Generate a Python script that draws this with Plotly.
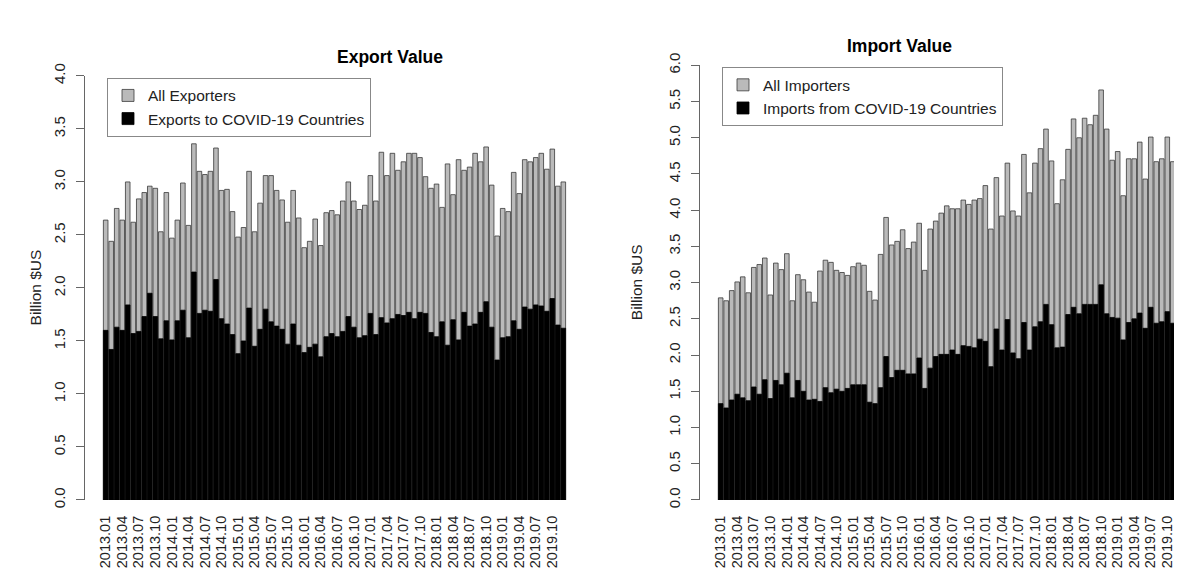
import plotly.graph_objects as go

W, H = 1182, 579

# month labels 2013.01 .. 2019.12
months = [f"{y}.{m:02d}" for y in range(2013, 2020) for m in range(1, 13)]

export_all = [
    2.64, 2.44, 2.75, 2.64, 3.00, 2.62, 2.84, 2.90, 2.96, 2.94, 2.53, 2.90,
    2.47, 2.64, 2.99, 2.59, 3.36, 3.10, 3.07, 3.10, 3.32, 2.92, 2.93, 2.72,
    2.48, 2.57, 3.10, 2.53, 2.80, 3.06, 3.06, 2.92, 2.83, 2.62, 2.92, 2.66,
    2.38, 2.44, 2.65, 2.40, 2.71, 2.73, 2.69, 2.82, 3.00, 2.82, 2.74, 2.78,
    3.06, 2.82, 3.28, 3.06, 3.27, 3.11, 3.19, 3.27, 3.27, 3.23, 3.05, 2.94,
    2.98, 2.76, 3.17, 2.88, 3.21, 3.11, 3.14, 3.27, 3.19, 3.33, 2.97, 2.49,
    2.75, 2.72, 3.09, 2.89, 3.21, 3.19, 3.23, 3.27, 3.12, 3.31, 2.96, 3.00,
]
export_covid = [
    1.60, 1.42, 1.63, 1.60, 1.84, 1.57, 1.59, 1.73, 1.95, 1.73, 1.52, 1.69,
    1.51, 1.69, 1.79, 1.53, 2.15, 1.76, 1.79, 1.78, 2.08, 1.71, 1.66, 1.56,
    1.38, 1.50, 1.81, 1.45, 1.61, 1.80, 1.68, 1.64, 1.61, 1.47, 1.66, 1.46,
    1.39, 1.44, 1.47, 1.35, 1.54, 1.57, 1.54, 1.59, 1.73, 1.63, 1.53, 1.55,
    1.76, 1.56, 1.72, 1.67, 1.71, 1.75, 1.74, 1.77, 1.71, 1.77, 1.76, 1.58,
    1.54, 1.68, 1.46, 1.70, 1.51, 1.77, 1.64, 1.66, 1.77, 1.87, 1.63, 1.32,
    1.53, 1.54, 1.69, 1.61, 1.82, 1.80, 1.84, 1.83, 1.78, 1.90, 1.65, 1.62,
]
import_all = [
    2.79, 2.75, 2.89, 3.01, 3.08, 2.86, 3.21, 3.25, 3.34, 2.83, 3.27, 3.18,
    3.40, 2.75, 3.11, 3.04, 2.87, 2.73, 3.16, 3.31, 3.28, 3.17, 3.14, 3.10,
    3.22, 3.27, 3.24, 2.88, 2.76, 3.39, 3.90, 3.52, 3.57, 3.73, 3.47, 3.56,
    3.82, 3.17, 3.74, 3.85, 3.96, 4.06, 4.02, 4.02, 4.14, 4.08, 4.14, 4.16,
    4.34, 3.74, 4.45, 3.92, 4.65, 3.99, 3.92, 4.77, 4.24, 4.65, 4.85, 5.12,
    4.68, 4.09, 4.42, 4.84, 5.26, 5.00, 5.27, 5.18, 5.31, 5.66, 5.12, 4.69,
    4.81, 4.20, 4.71, 4.71, 4.94, 4.43, 5.01, 4.67, 4.71, 5.01, 4.67, 4.30,
]
import_covid = [
    1.33, 1.27, 1.38, 1.46, 1.41, 1.37, 1.56, 1.46, 1.66, 1.40, 1.65, 1.59,
    1.75, 1.41, 1.65, 1.50, 1.38, 1.39, 1.36, 1.55, 1.48, 1.53, 1.50, 1.54,
    1.59, 1.59, 1.59, 1.35, 1.33, 1.55, 1.98, 1.69, 1.79, 1.79, 1.74, 1.74,
    1.96, 1.54, 1.82, 1.98, 2.01, 2.01, 2.07, 2.01, 2.13, 2.12, 2.10, 2.22,
    2.19, 1.84, 2.36, 2.07, 2.49, 2.03, 1.95, 2.45, 2.07, 2.39, 2.46, 2.70,
    2.42, 2.10, 2.11, 2.56, 2.66, 2.57, 2.70, 2.70, 2.70, 2.97, 2.57, 2.52,
    2.51, 2.21, 2.45, 2.50, 2.58, 2.37, 2.66, 2.44, 2.46, 2.60, 2.44, 2.41,
]

GRAY = "#bababa"
EDGE = "#3a3a3a"
FONT = "Liberation Sans, Arial, sans-serif"


def px_x(p):
    return p / W


def px_y(p):
    return (H - p) / H


fig = go.Figure()
fig.add_trace(go.Bar(x=months, y=export_all, name="All Exporters",
                     marker=dict(color=GRAY, line=dict(color=EDGE, width=0.8)),
                     xaxis="x", yaxis="y", legend="legend"))
fig.add_trace(go.Bar(x=months, y=export_covid, name="Exports to COVID-19 Countries",
                     marker=dict(color="black", line=dict(color="black", width=0.8)),
                     xaxis="x", yaxis="y", legend="legend"))
fig.add_trace(go.Bar(x=months, y=import_all, name="All Importers",
                     marker=dict(color=GRAY, line=dict(color=EDGE, width=0.8)),
                     xaxis="x2", yaxis="y2", legend="legend2"))
fig.add_trace(go.Bar(x=months, y=import_covid, name="Imports from COVID-19 Countries",
                     marker=dict(color="black", line=dict(color="black", width=0.8)),
                     xaxis="x2", yaxis="y2", legend="legend2"))

xcommon = dict(
    type="category",
    tickmode="array",
    tickvals=months[::3],
    ticktext=months[::3],
    tickangle=-90,
    ticks="outside",
    ticklen=9,
    tickcolor="rgba(0,0,0,0)",
    showline=False,
    showgrid=False,
    zeroline=False,
    tickfont=dict(size=14.5, color="#222", family=FONT),
)
ycommon = dict(
    tickmode="linear",
    tick0=0,
    dtick=0.5,
    tickformat=".1f",
    tickangle=-90,
    ticks="outside",
    ticklen=8,
    tickcolor="#666",
    ticklabelstandoff=5,
    showline=True,
    linecolor="#666",
    linewidth=1,
    showgrid=False,
    zeroline=False,
    tickfont=dict(size=15, color="#222", family=FONT),
)

span = 90.5 / (576 - 77)  # category units per pixel
legend_style = dict(
    xanchor="left", yanchor="top",
    bordercolor="#888", borderwidth=1, bgcolor="white",
    font=dict(size=15.5, color="#222"), tracegroupgap=0,
)
fig.update_layout(
    width=W,
    height=H,
    margin=dict(l=0, r=0, t=0, b=0),
    paper_bgcolor="white",
    plot_bgcolor="white",
    barmode="overlay",
    bargap=1 / 6,
    font=dict(family=FONT, color="#222", size=15),
    xaxis=dict(xcommon, domain=[px_x(77), px_x(576)], range=[-3.75, 86.75], anchor="y"),
    yaxis=dict(ycommon, domain=[px_y(497), px_y(57)], range=[0, 4], anchor="x"),
    xaxis2=dict(xcommon, domain=[px_x(692), 1.0],
                range=[-3.75, -3.75 + (W - 692) * span], anchor="y2"),
    yaxis2=dict(ycommon, domain=[px_y(497), px_y(46)], range=[0, 6], anchor="x2"),
    legend=dict(legend_style, x=px_x(99), y=px_y(59)),
    legend2=dict(legend_style, x=px_x(714), y=px_y(48)),
    annotations=[
        dict(text="<b>Export Value</b>", x=px_x(327), y=px_y(25), xref="paper", yref="paper",
             showarrow=False, font=dict(size=17.5, color="black")),
        dict(text="<b>Import Value</b>", x=px_x(946), y=px_y(13), xref="paper", yref="paper",
             showarrow=False, font=dict(size=17.5, color="black")),
        dict(text="Billion $US", textangle=-90, x=px_x(17), y=px_y(277), xref="paper",
             yref="paper", showarrow=False, font=dict(size=15.5, color="#222")),
        dict(text="Billion $US", textangle=-90, x=px_x(628), y=px_y(271), xref="paper",
             yref="paper", showarrow=False, font=dict(size=15.5, color="#222")),
    ],
)

fig.write_html("out.html")
